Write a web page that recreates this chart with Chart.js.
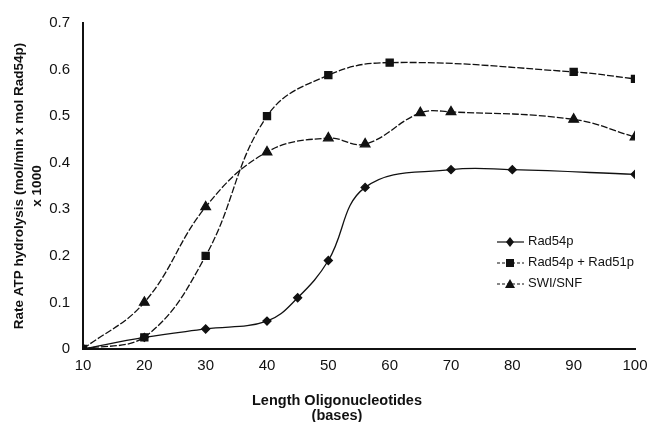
<!DOCTYPE html>
<html>
<head>
    <title>ATP hydrolysis vs oligonucleotide length</title>
    <meta charset="UTF-8">
    <script src="https://cdn.jsdelivr.net/npm/chart.js"></script>
    <style>
        body { margin: 0; background: #fff; }
        #wrap { position: relative; width: 655px; height: 422px; }
        #legend { position: absolute; left: 497px; top: 230px; font: 13px "Liberation Sans", Arial, sans-serif; color: #111; }
        #legend div { height: 21px; line-height: 21px; white-space: nowrap; }
        #legend svg { vertical-align: middle; margin-right: 4px; }
        #xtitle { position: absolute; left: 237px; width: 200px; top: 393px; text-align: center;
                  font: bold 14.5px "Liberation Sans", Arial, sans-serif; line-height: 15px; color: #111; }
    </style>
</head>
<body>
    <div id="wrap">
        <canvas id="chart" width="655" height="422"></canvas>
        <div id="legend"></div>
        <div id="xtitle"></div>
    </div>

    <script>
        // data
        const rad54X = [10, 20, 30, 40, 45, 50, 56, 70, 80, 100];
        const rad54Y = [0, 0.025, 0.043, 0.06, 0.11, 0.19, 0.347, 0.385, 0.385, 0.375];

        const rad51X = [10, 20, 30, 40, 50, 60, 90, 100];
        const rad51Y = [0, 0.025, 0.2, 0.5, 0.588, 0.615, 0.595, 0.58];

        const swiX = [10, 20, 30, 40, 50, 56, 65, 70, 90, 100];
        const swiY = [0, 0.1, 0.305, 0.423, 0.453, 0.44, 0.507, 0.509, 0.493, 0.455];

        const seriesNames = ['Rad54p', 'Rad54p + Rad51p', 'SWI/SNF'];
        const yTitle = ['Rate ATP hydrolysis (mol/min x mol Rad54p)', 'x 1000'];
        const xTitle = ['Length Oligonucleotides', '(bases)'];

        const font = '"Liberation Sans", Arial, sans-serif';

        function pts(xs, ys) {
            return xs.map((x, i) => ({ x: x, y: ys[i] }));
        }

        const styles = [
            { pointStyle: 'rectRot', pointRadius: 4, borderDash: [] },
            { pointStyle: 'rect', pointRadius: 5, borderDash: [7, 2] },
            { pointStyle: 'triangle', pointRadius: 5.5, borderDash: [7, 2] }
        ];
        const allData = [pts(rad54X, rad54Y), pts(rad51X, rad51Y), pts(swiX, swiY)];

        const datasets = seriesNames.map((name, i) => ({
            label: name,
            data: allData[i],
            borderColor: '#111',
            backgroundColor: '#111',
            borderWidth: 1.3,
            borderDash: styles[i].borderDash,
            pointStyle: styles[i].pointStyle,
            pointRadius: styles[i].pointRadius,
            pointBackgroundColor: '#111',
            pointBorderColor: '#111',
            tension: 0.4,
            fill: false
        }));

        new Chart(document.getElementById('chart'), {
            type: 'line',
            data: { datasets: datasets },
            options: {
                responsive: false,
                animation: false,
                layout: { padding: { top: 23, right: 20, bottom: 0, left: 0 } },
                plugins: {
                    legend: { display: false },
                    tooltip: { enabled: false }
                },
                scales: {
                    x: {
                        type: 'linear',
                        min: 10,
                        max: 100,
                        ticks: { stepSize: 10, color: '#111', padding: 0, font: { family: font, size: 15 } },
                        grid: { display: false },
                        border: { display: true, color: '#111', width: 2 },
                        afterFit: s => { s.height = 73; }
                    },
                    y: {
                        min: 0,
                        max: 0.7,
                        ticks: {
                            stepSize: 0.1,
                            color: '#111',
                            padding: 5,
                            font: { family: font, size: 15 },
                            callback: v => v === 0 ? '0' : v.toFixed(1)
                        },
                        grid: { display: false },
                        border: { display: true, color: '#111', width: 2 },
                        title: {
                            display: true,
                            text: yTitle,
                            color: '#111',
                            padding: { top: 11, bottom: 0 },
                            font: { family: font, size: 13.5, weight: 'bold', lineHeight: 1.3 }
                        },
                        afterFit: s => { s.width = 83; }
                    }
                }
            }
        });

        // x title sits a little left of the plot centre in the original, so it is placed by hand
        document.getElementById('xtitle').innerHTML = xTitle.join('<br>');

        // legend drawn as html so it can sit inside the plot
        const marks = {
            rectRot: '<polygon points="13,2 17,7 13,12 9,7" fill="#111"/>',
            rect: '<rect x="9" y="3" width="8" height="8" fill="#111"/>',
            triangle: '<polygon points="13,2 18,11 8,11" fill="#111"/>'
        };
        let html = '';
        seriesNames.forEach((name, i) => {
            const dash = styles[i].borderDash.length ? 'stroke-dasharray="3,2"' : '';
            html += `<div><svg width="27" height="14"><line x1="0" y1="7" x2="27" y2="7" stroke="#111" stroke-width="1.2" ${dash}/>${marks[styles[i].pointStyle]}</svg>${name}</div>`;
        });
        document.getElementById('legend').innerHTML = html;
    </script>
</body>
</html>
